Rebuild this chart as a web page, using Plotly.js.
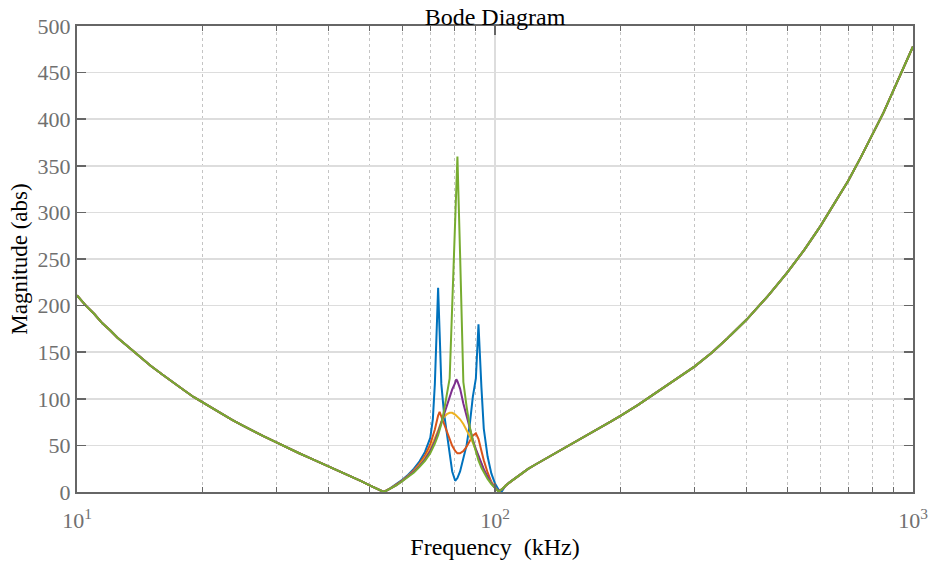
<!DOCTYPE html>
<html><head><meta charset="utf-8">
<script src="https://cdn.plot.ly/plotly-3.0.1.min.js"></script>
<style>html,body{margin:0;padding:0;background:#fff;overflow:hidden}</style>
</head><body><div id="chart" style="width:932px;height:565px"></div>
<script>
// ---- data (frequency in kHz, magnitude in abs) ----
const freqLow = [10, 10.5, 11, 11.5, 12, 12.5, 13, 14, 15, 16, 17, 18, 19, 20, 21, 22, 23.5, 25, 26.5, 28, 30,
                 32, 34, 36, 38, 40, 42, 44, 46, 48, 50, 52, 54.2];
const magLow  = [211, 200, 191, 181, 173.5, 165.5, 159, 146.5, 135.5, 126, 117, 109.5, 102, 96, 90, 85, 77.3, 71, 64.8, 59.7, 53.2,
                 47, 41.6, 36.6, 31.9, 27.5, 23.3, 19.3, 15.4, 11.4, 7.3, 3.6, 0];

const freqRes = [56, 58, 60, 62, 64, 66, 68, 70, 71, 71.8, 73.1, 73.7, 74.4, 75.5, 76.7, 77.9, 79, 80.3, 80.8, 81.3,
                 82.5, 84, 85.5, 87, 88.5, 90, 91.3, 92.8, 94, 96, 98, 100, 102, 103.8];
const magBlue   = [3.6, 8, 13, 18.5, 25, 33, 43, 58, 78, 116, 219, 172, 116, 85, 62, 38, 22, 12, 13, 15,
                   22, 35, 50, 72, 102, 122, 180, 112, 68, 38, 20, 9, 2.5, 0.5];
const magOrange = [3.5, 7.5, 12.3, 17.5, 23.5, 30.5, 39, 51, 59, 67, 82, 86, 81, 73, 65, 56, 49.5, 44, 42.5, 41.5,
                   41.5, 44, 48.5, 55, 60.5, 63, 57, 44, 34, 21, 11, 4.5, 0.8, 2.8];
const magYellow = [3.4, 7.3, 12, 17, 22.5, 29, 36.5, 46, 52, 57, 66, 70.5, 75.5, 80.5, 83.5, 85, 85, 83, 82, 81,
                   78, 73, 67, 60, 53, 45, 38.5, 30, 24, 16, 9.5, 4.5, 0.5, 2.8];
const magPurple = [3.4, 7.2, 11.8, 16.5, 22, 28, 35, 44, 49.5, 54.5, 64, 69, 75, 83, 92, 101, 110, 117, 121, 119,
                   111, 95, 81, 67, 56, 46, 38.5, 30, 24.5, 16.5, 9.5, 4.5, 0.5, 2.8];
const magGreen  = [3.3, 7, 11.5, 16, 21, 27, 33.5, 41.5, 47, 52, 61, 66.5, 73, 87, 104, 122, 200, 295, 328, 360,
                   255, 118, 92, 70, 55, 42, 34, 26, 21, 14, 8.5, 4, 0.3, 3];

const freqHigh = [106, 108, 110, 113, 116, 120, 125, 130, 140, 150, 160, 170, 180, 190, 200, 220, 240, 260, 280, 300,
                  330, 360, 400, 450, 500, 550, 600, 650, 700, 750, 800, 850, 900, 950, 1000];
const magHigh  = [7, 9.8, 12.5, 16.5, 20.5, 24.8, 29.5, 33.8, 42, 49.5, 56.5, 63.5, 70, 76, 82, 93.5, 105, 115.5, 125, 134.5,
                  149.5, 165, 185, 210.5, 235.5, 260, 285, 310, 334, 359, 383.5, 407, 432, 455, 478];

const seriesNames  = ['Case 1', 'Case 2', 'Case 3', 'Case 4', 'Case 5'];
const seriesValues = [magBlue, magOrange, magYellow, magPurple, magGreen];
const seriesColors = ['#0072BD', '#D95319', '#EDB120', '#7E2F8E', '#77AC30'];

const xTickVals = [10, 100, 1000];
const xTickText = ['10<sup>1</sup>', '10<sup>2</sup>', '10<sup>3</sup>'];
const xMinorVals = [20, 30, 40, 50, 60, 70, 80, 90, 200, 300, 400, 500, 600, 700, 800, 900];

// ---- build traces ----
const traces = seriesValues.map((vals, i) => ({
  type: 'scatter', mode: 'lines', name: seriesNames[i],
  x: freqLow.concat(freqRes, freqHigh),
  y: magLow.concat(vals, magHigh),
  line: {color: seriesColors[i], width: 2},
  hoverinfo: 'x+y'
}));

const serif = 'Liberation Serif, Times New Roman, serif';
const axisColor = '#666666';
const tickFontColor = '#707070';

const layout = {
  width: 932, height: 565,
  margin: {l: 77, r: 19, t: 26, b: 73},
  paper_bgcolor: '#ffffff', plot_bgcolor: '#ffffff',
  showlegend: false,
  title: {text: 'Bode Diagram', font: {family: serif, size: 24, color: '#000'},
          x: 0.5, xref: 'paper', xanchor: 'center', y: 0.985, yref: 'container', yanchor: 'top'},
  xaxis: {
    type: 'log', range: [1, 3],
    tickmode: 'array', tickvals: xTickVals, ticktext: xTickText,
    ticks: 'inside', ticklen: 9, tickwidth: 1.5, tickcolor: axisColor,
    showline: true, linecolor: axisColor, linewidth: 2, mirror: 'allticks',
    showgrid: true, gridcolor: '#dddddd', gridwidth: 1.5, zeroline: false,
    tickfont: {family: serif, size: 22, color: tickFontColor},
    ticklabelstandoff: 8,
    title: {text: 'Frequency \u00a0(kHz)', font: {family: serif, size: 24, color: '#000'}, standoff: 6},
    minor: {tickmode: 'array', tickvals: xMinorVals, ticks: 'inside', ticklen: 5, tickwidth: 1, tickcolor: axisColor,
            showgrid: true, gridcolor: '#c4c4c4', griddash: 'dot', gridwidth: 1}
  },
  yaxis: {
    range: [0, 500], tick0: 0, dtick: 50,
    ticks: 'inside', ticklen: 9, tickwidth: 1.5, tickcolor: axisColor,
    showline: true, linecolor: axisColor, linewidth: 2, mirror: 'allticks',
    showgrid: true, gridcolor: '#dddddd', gridwidth: 1.5, zeroline: false,
    tickfont: {family: serif, size: 22, color: tickFontColor},
    title: {text: 'Magnitude (abs)', font: {family: serif, size: 23, color: '#000'}, standoff: 4}
  }
};

Plotly.newPlot('chart', traces, layout, {displayModeBar: false, staticPlot: true});
</script></body></html>
